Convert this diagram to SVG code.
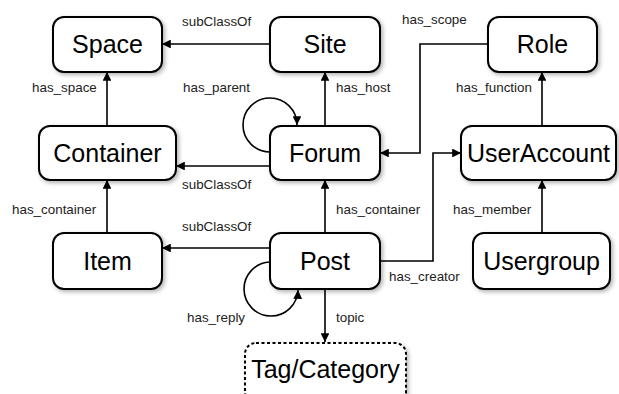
<svg xmlns="http://www.w3.org/2000/svg" width="619" height="394" viewBox="0 0 619 394">
<defs>
<style>
.node rect{fill:#fff;stroke:#000;stroke-width:2;filter:url(#sh)}
.node text{font-family:"Liberation Sans",Arial,sans-serif;font-size:25px;fill:#000;text-anchor:middle}
.edges path{fill:none;stroke:#000;stroke-width:1.6;marker-end:url(#ah)}
.lbl{font-family:"Liberation Sans",Arial,sans-serif;font-size:13.4px;fill:#222}
.dash{stroke-dasharray:3 2.5}
</style>
<marker id="ah" viewBox="0 0 10 10" refX="10" refY="5" markerWidth="5.5" markerHeight="5.5" orient="auto" markerUnits="strokeWidth">
<path d="M0,0 L10,5 L0,10 z" fill="#000"/>
</marker>
<filter id="sh" x="-20%" y="-20%" width="150%" height="160%">
<feDropShadow dx="2" dy="2" stdDeviation="2" flood-color="#000" flood-opacity="0.3"/>
</filter>
</defs>
<rect width="619" height="394" fill="#fff"/>
<g class="edges">
<path d="M270,44 H162"/>
<path d="M107,126 V72"/>
<path d="M325,126 V72"/>
<path d="M270,166 H176"/>
<path d="M270,152 A27,27 0 1 1 297,125"/>
<path d="M488,44 H420 V153 H380"/>
<path d="M542,126 V72"/>
<path d="M107,233 V180"/>
<path d="M270,248 H162"/>
<path d="M325,233 V180"/>
<path d="M380,261 H433 V153 H461"/>
<path d="M542,233 V180"/>
<path d="M325,289 V342"/>
<path d="M270,262 A27,27 0 1 0 298,290"/>
</g>
<g id="labels">
<text class="lbl" x="182" y="26">subClassOf</text>
<text class="lbl" x="402" y="24">has_scope</text>
<text class="lbl" x="32" y="92">has_space</text>
<text class="lbl" x="183" y="92">has_parent</text>
<text class="lbl" x="336" y="92">has_host</text>
<text class="lbl" x="456" y="92">has_function</text>
<text class="lbl" x="182" y="189">subClassOf</text>
<text class="lbl" x="12" y="214">has_container</text>
<text class="lbl" x="336" y="214">has_container</text>
<text class="lbl" x="453" y="214">has_member</text>
<text class="lbl" x="182" y="231">subClassOf</text>
<text class="lbl" x="389" y="281">has_creator</text>
<text class="lbl" x="187" y="322">has_reply</text>
<text class="lbl" x="336" y="322">topic</text>
</g>
<g id="Space" class="node"><rect x="53" y="17" width="109" height="55" rx="11"/><text x="107.5" y="53">Space</text></g>
<g id="Site" class="node"><rect x="270" y="17" width="110" height="55" rx="11"/><text x="325" y="53">Site</text></g>
<g id="Role" class="node"><rect x="488" y="17" width="109" height="55" rx="11"/><text x="542.5" y="53">Role</text></g>
<g id="Container" class="node"><rect x="39" y="126" width="137" height="54" rx="11"/><text x="107.5" y="162">Container</text></g>
<g id="Forum" class="node"><rect x="270" y="126" width="110" height="54" rx="11"/><text x="325" y="162">Forum</text></g>
<g id="UserAccount" class="node"><rect x="461" y="126" width="155" height="54" rx="11"/><text x="538.5" y="162">UserAccount</text></g>
<g id="Item" class="node"><rect x="53" y="233" width="109" height="56" rx="11"/><text x="107.5" y="270">Item</text></g>
<g id="Post" class="node"><rect x="270" y="233" width="110" height="56" rx="11"/><text x="325" y="270">Post</text></g>
<g id="Usergroup" class="node"><rect x="473" y="233" width="137" height="56" rx="11"/><text x="541.5" y="270">Usergroup</text></g>
<g id="TagCategory" class="node"><rect class="dash" x="245" y="343" width="161" height="60" rx="11"/><text x="325.5" y="378">Tag/Category</text></g>
</svg>
